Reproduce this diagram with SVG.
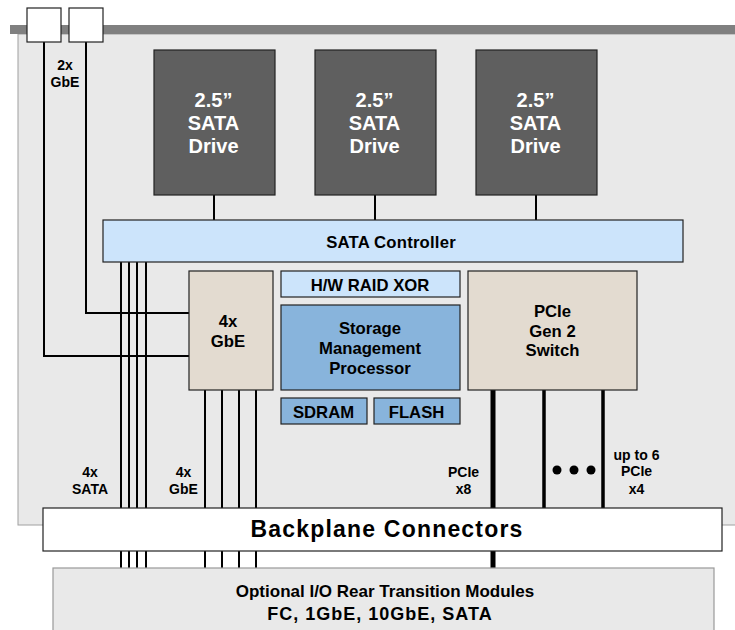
<svg xmlns="http://www.w3.org/2000/svg" width="735" height="630" viewBox="0 0 735 630">
  <style>
    text { font-family: "Liberation Sans", Arial, sans-serif; font-weight: bold; text-anchor: middle; fill: #000; }
    .box { stroke: #222; stroke-width: 1.2; }
    .drive { fill: #5f5f5f; stroke: #222; stroke-width: 1.2; }
    .drive-t { fill: #fff; font-size: 20px; }
    .bt { font-size: 16.7px; }
    .lbl { font-size: 14px; }
    .wire { stroke: #000; stroke-width: 2; fill: none; }
  </style>

  <!-- board -->
  <rect x="18" y="34" width="720" height="491" fill="#e9e9e9" stroke="#a0a0a0" stroke-width="1"/>
  <rect x="10" y="25" width="725" height="9" fill="#808080"/>

  <!-- connectors -->
  <g id="connectors">
    <!-- front panel GbE -->
    <path class="wire" d="M44,42 V356 H189"/>
    <path class="wire" d="M86,42 V313 H189"/>
    <!-- drives to controller -->
    <path class="wire" d="M214,195 V220 M375,195 V220 M536,195 V220"/>
    <!-- SATA to rear -->
    <path class="wire" d="M121,262 V568 M129,262 V568 M137,262 V568 M146,262 V568"/>
    <!-- GbE to rear -->
    <path class="wire" d="M205,390 V568 M222,390 V568 M239,390 V568 M256,390 V568"/>
    <!-- PCIe -->
    <path d="M493,390 V568" stroke="#000" stroke-width="5"/>
    <path d="M544,390 V508 M603,390 V508" stroke="#000" stroke-width="3.5"/>
    <circle cx="557" cy="470" r="4.5" fill="#000"/>
    <circle cx="574" cy="470" r="4.5" fill="#000"/>
    <circle cx="591" cy="470" r="4.5" fill="#000"/>
  </g>

  <g id="gbe-ports">
    <rect x="27" y="8" width="34" height="34" fill="#fff" stroke="#222" stroke-width="1.2"/>
    <rect x="69" y="8" width="34" height="34" fill="#fff" stroke="#222" stroke-width="1.2"/>
    <text class="lbl" x="65" y="70">2x</text>
    <text class="lbl" x="65" y="87">GbE</text>
  </g>

  <g id="drive1">
    <rect class="drive" x="154" y="50" width="121" height="145"/>
    <text class="drive-t" x="213.5" y="107">2.5”</text>
    <text class="drive-t" x="213.5" y="130">SATA</text>
    <text class="drive-t" x="213.5" y="153">Drive</text>
  </g>
  <g id="drive2">
    <rect class="drive" x="315" y="50" width="121" height="145"/>
    <text class="drive-t" x="374.5" y="107">2.5”</text>
    <text class="drive-t" x="374.5" y="130">SATA</text>
    <text class="drive-t" x="374.5" y="153">Drive</text>
  </g>
  <g id="drive3">
    <rect class="drive" x="476" y="50" width="121" height="145"/>
    <text class="drive-t" x="535.5" y="107">2.5”</text>
    <text class="drive-t" x="535.5" y="130">SATA</text>
    <text class="drive-t" x="535.5" y="153">Drive</text>
  </g>

  <g id="sata-controller">
    <rect class="box" x="103" y="220" width="580" height="42" fill="#cce4fb"/>
    <text class="bt" x="391" y="248" letter-spacing="0.2">SATA Controller</text>
  </g>

  <g id="gbe4">
    <rect class="box" x="189" y="271" width="84" height="119" fill="#e3dbd0"/>
    <text class="bt" x="228" y="327">4x</text>
    <text class="bt" x="228" y="347">GbE</text>
  </g>

  <g id="raid-xor">
    <rect class="box" x="281" y="271" width="179" height="26" fill="#cce4fb"/>
    <text class="bt" x="370" y="290.5">H/W RAID XOR</text>
  </g>

  <g id="smp">
    <rect class="box" x="281" y="305" width="179" height="85" fill="#88b4dc"/>
    <text class="bt" x="370" y="334">Storage</text>
    <text class="bt" x="370" y="354">Management</text>
    <text class="bt" x="370" y="373.5">Processor</text>
  </g>

  <g id="sdram">
    <rect class="box" x="281" y="398" width="86" height="26" fill="#88b4dc"/>
    <text class="bt" x="323.5" y="417.5">SDRAM</text>
  </g>
  <g id="flash">
    <rect class="box" x="374" y="398" width="86" height="26" fill="#88b4dc"/>
    <text class="bt" x="416.5" y="417.5">FLASH</text>
  </g>

  <g id="pcie-switch">
    <rect class="box" x="468" y="271" width="169" height="119" fill="#e3dbd0"/>
    <text class="bt" x="552.5" y="317">PCIe</text>
    <text class="bt" x="552.5" y="337">Gen 2</text>
    <text class="bt" x="552.5" y="356">Switch</text>
  </g>

  <g id="labels">
    <text class="lbl" x="90" y="477">4x</text>
    <text class="lbl" x="90" y="494">SATA</text>
    <text class="lbl" x="183.5" y="477">4x</text>
    <text class="lbl" x="183.5" y="494">GbE</text>
    <text class="lbl" x="463.5" y="477">PCIe</text>
    <text class="lbl" x="463.5" y="493.5">x8</text>
    <text class="lbl" x="636.5" y="459.5">up to 6</text>
    <text class="lbl" x="636.5" y="476">PCIe</text>
    <text class="lbl" x="636.5" y="493.5">x4</text>
  </g>

  <g id="backplane">
    <rect x="43" y="508" width="679" height="43" fill="#fff" stroke="#222" stroke-width="1.2"/>
    <text x="387" y="537" font-size="23" letter-spacing="1.2">Backplane Connectors</text>
  </g>

  <g id="rtm">
    <rect x="53" y="568" width="661" height="70" fill="#e9e9e9" stroke="#999" stroke-width="1.2"/>
    <text x="385" y="597" font-size="17">Optional I/O Rear Transition Modules</text>
    <text x="380" y="620" font-size="18" letter-spacing="1">FC, 1GbE, 10GbE, SATA</text>
  </g>
</svg>
